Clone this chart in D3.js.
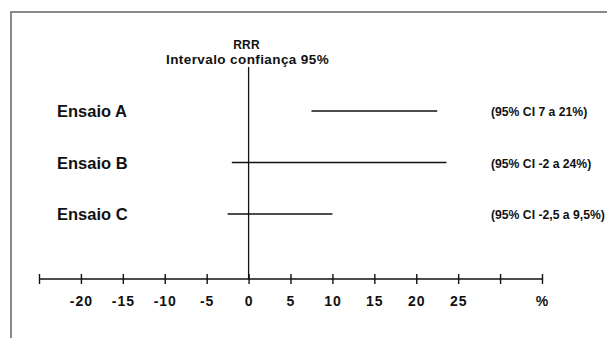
<!DOCTYPE html>
<html>
<head>
<meta charset="utf-8">
<script src="https://cdn.jsdelivr.net/npm/d3@7"></script>
<style>
  body { margin: 0; background: #fff; }
  text { font-family: "Liberation Sans", Arial, sans-serif; font-weight: bold; fill: #111; }
</style>
</head>
<body>
<div class="chart"></div>
<script>
// data
const trials = ["Ensaio A", "Ensaio B", "Ensaio C"];
const lower = [7.5, -2, -2.5];
const upper = [22.5, 23.6, 10];
const ciLabels = ["(95% CI 7 a 21%)", "(95% CI -2 a 24%)", "(95% CI -2,5 a 9,5%)"];
const tickValues = [-25, -20, -15, -10, -5, 0, 5, 10, 15, 20, 25, 30, 35];
const tickLabels = ["", "-20", "-15", "-10", "-5", "0", "5", "10", "15", "20", "25", "", "%"];

const width = 607, height = 338;

const svg = d3.select(".chart")
    .append("svg")
    .attr("width", width)
    .attr("height", height);

// frame
svg.append("path")
    .attr("d", "M11,338 V12 H607")
    .attr("fill", "none")
    .attr("stroke", "#8a8a8a")
    .attr("stroke-width", 2);

// scales
const xScale = d3.scaleLinear()
    .domain([-25, 35])
    .range([39, 542]);

const yScale = d3.scalePoint()
    .domain(trials)
    .range([111, 214]);

const axisY = 279;

// axis
const xAxis = d3.axisBottom(xScale)
    .tickValues(tickValues)
    .tickSize(5)
    .tickFormat((d, i) => tickLabels[i]);

const axisGroup = svg.append("g")
    .attr("transform", "translate(0," + axisY + ")")
    .call(xAxis);

axisGroup.select(".domain")
    .attr("d", "M" + xScale(-25) + ",0H" + xScale(35))
    .attr("stroke", "#111")
    .attr("stroke-width", 1.6);

axisGroup.selectAll(".tick line")
    .attr("y1", -5)
    .attr("y2", 5)
    .attr("stroke", "#111")
    .attr("stroke-width", 1.4);

axisGroup.selectAll(".tick text")
    .attr("y", 17)
    .attr("font-size", 14)
    .attr("letter-spacing", 1)
    .attr("font-family", "Liberation Sans, Arial, sans-serif")
    .attr("font-weight", "bold")
    .attr("fill", "#111");

// zero line
svg.append("line")
    .attr("x1", xScale(0))
    .attr("x2", xScale(0))
    .attr("y1", 67)
    .attr("y2", axisY)
    .attr("stroke", "#111")
    .attr("stroke-width", 1.3);

// title
svg.append("text")
    .attr("x", xScale(0) - 2)
    .attr("y", 49)
    .attr("text-anchor", "middle")
    .attr("font-size", 12)
    .attr("letter-spacing", 0.3)
    .text("RRR");

svg.append("text")
    .attr("x", xScale(0) - 1)
    .attr("y", 64)
    .attr("text-anchor", "middle")
    .attr("font-size", 13.5)
    .attr("letter-spacing", 0.4)
    .text("Intervalo confiança 95%");

// CI lines
svg.selectAll(".ci")
    .data(trials)
    .enter()
    .append("line")
    .attr("class", "ci")
    .attr("x1", (d, i) => xScale(lower[i]))
    .attr("x2", (d, i) => xScale(upper[i]))
    .attr("y1", d => yScale(d))
    .attr("y2", d => yScale(d))
    .attr("stroke", "#111")
    .attr("stroke-width", 1.5);

// trial labels
svg.selectAll(".trial")
    .data(trials)
    .enter()
    .append("text")
    .attr("class", "trial")
    .attr("x", 57)
    .attr("y", d => yScale(d) + 6)
    .attr("font-size", 16.5)
    .text(d => d);

// CI labels
svg.selectAll(".cilabel")
    .data(trials)
    .enter()
    .append("text")
    .attr("class", "cilabel")
    .attr("x", 491)
    .attr("y", d => yScale(d) + 5)
    .attr("font-size", 12.2)
    .text((d, i) => ciLabels[i]);
</script>
</body>
</html>
